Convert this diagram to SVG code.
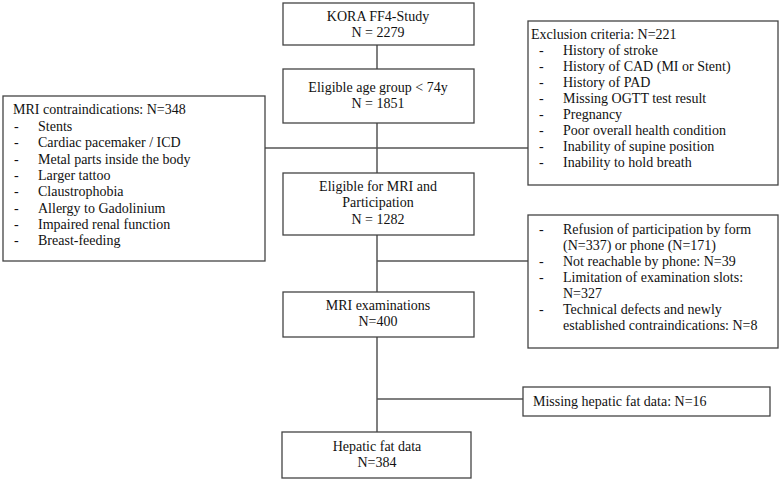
<svg xmlns="http://www.w3.org/2000/svg" width="781" height="481" viewBox="0 0 781 481">
<style>
rect{fill:#fff;stroke:#444;stroke-width:1.3}
line,polyline{stroke:#555;stroke-width:1.5;fill:none}
text{font-family:"Liberation Serif","Times New Roman",serif;font-size:14px;fill:#111}
.c{text-anchor:middle}
</style>
<g id="connectors">
<line x1="377" y1="45" x2="377" y2="69"/>
<line x1="377" y1="123" x2="377" y2="173"/>
<line x1="265" y1="148" x2="528" y2="148"/>
<line x1="377" y1="235" x2="377" y2="292"/>
<line x1="377" y1="261" x2="528" y2="261"/>
<line x1="377" y1="337" x2="377" y2="432"/>
<line x1="377" y1="399" x2="523" y2="399"/>
</g>
<g id="kora">
<rect x="283" y="3" width="191" height="42"/>
<text class="c" x="378" y="21">KORA FF4-Study</text>
<text class="c" x="378" y="37">N = 2279</text>
</g>
<g id="age">
<rect x="283" y="69" width="191" height="54"/>
<text class="c" x="378" y="92">Eligible age group &lt; 74y</text>
<text class="c" x="378" y="108">N = 1851</text>
</g>
<g id="exclusion">
<rect x="528" y="21" width="250" height="164"/>
<text x="531" y="39">Exclusion criteria: N=221</text>
<g>
<text x="539" y="55">-</text><text x="563" y="55">History of stroke</text>
<text x="539" y="71">-</text><text x="563" y="71">History of CAD (MI or Stent)</text>
<text x="539" y="87">-</text><text x="563" y="87">History of PAD</text>
<text x="539" y="103">-</text><text x="563" y="103">Missing OGTT test result</text>
<text x="539" y="119">-</text><text x="563" y="119">Pregnancy</text>
<text x="539" y="135">-</text><text x="563" y="135">Poor overall health condition</text>
<text x="539" y="151">-</text><text x="563" y="151">Inability of supine position</text>
<text x="539" y="167">-</text><text x="563" y="167">Inability to hold breath</text>
</g>
</g>
<g id="contra">
<rect x="3" y="96" width="262" height="165"/>
<text x="13" y="114">MRI contraindications: N=348</text>
<text x="14" y="131">-</text><text x="38" y="131">Stents</text>
<text x="14" y="147">-</text><text x="38" y="147">Cardiac pacemaker / ICD</text>
<text x="14" y="164">-</text><text x="38" y="164">Metal parts inside the body</text>
<text x="14" y="180">-</text><text x="38" y="180">Larger tattoo</text>
<text x="14" y="196">-</text><text x="38" y="196">Claustrophobia</text>
<text x="14" y="213">-</text><text x="38" y="213">Allergy to Gadolinium</text>
<text x="14" y="229">-</text><text x="38" y="229">Impaired renal function</text>
<text x="14" y="245">-</text><text x="38" y="245">Breast-feeding</text>
</g>
<g id="eligible">
<rect x="283" y="173" width="191" height="62"/>
<text class="c" x="378" y="191">Eligible for MRI and</text>
<text class="c" x="378" y="207">Participation</text>
<text class="c" x="378" y="224">N = 1282</text>
</g>
<g id="refusal">
<rect x="528" y="215" width="250" height="133"/>
<text x="539" y="234">-</text><text x="563" y="234">Refusion of participation by form</text>
<text x="563" y="250">(N=337) or phone (N=171)</text>
<text x="539" y="266">-</text><text x="563" y="266">Not reachable by phone: N=39</text>
<text x="539" y="282">-</text><text x="563" y="282">Limitation of examination slots:</text>
<text x="563" y="298">N=327</text>
<text x="539" y="314">-</text><text x="563" y="314">Technical defects and newly</text>
<text x="563" y="330">established contraindications: N=8</text>
</g>
<g id="mri">
<rect x="283" y="292" width="191" height="45"/>
<text class="c" x="378" y="310">MRI examinations</text>
<text class="c" x="378" y="326">N=400</text>
</g>
<g id="missing">
<rect x="523" y="387" width="247" height="29"/>
<text x="533" y="406">Missing hepatic fat data: N=16</text>
</g>
<g id="hepatic">
<rect x="282" y="432" width="189" height="46"/>
<text class="c" x="377" y="451">Hepatic fat data</text>
<text class="c" x="377" y="467">N=384</text>
</g>
</svg>
